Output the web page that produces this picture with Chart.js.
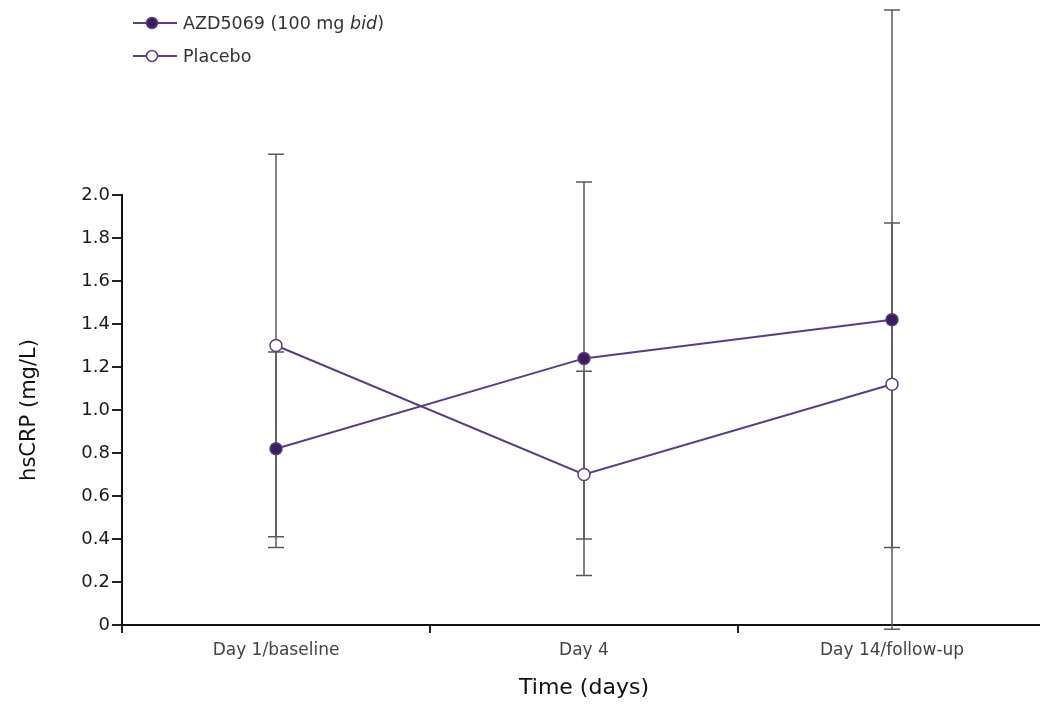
<!DOCTYPE html>
<html>
<head>
<meta charset="utf-8">
<script src="https://cdn.jsdelivr.net/npm/chart.js@4.4.1/dist/chart.umd.min.js"></script>
<style>
    html, body { margin: 0; padding: 0; background: #fff; overflow: hidden; }
    #wrap { position: relative; width: 1040px; height: 706px; overflow: hidden; }
    #box { position: absolute; left: 0; top: 0; width: 1060px; height: 706px; }
    #legend { position: absolute; left: 133px; top: 6px; font-family: 'DejaVu Sans', sans-serif; font-size: 17.5px; color: #333; }
    .row { display: flex; align-items: center; height: 33px; }
    .row svg { margin-right: 6px; }
</style>
</head>
<body>
<div id="wrap">
    <div id="box"><canvas id="chart"></canvas></div>
    <div id="legend">
        <div class="row">
            <svg width="44" height="16"><line x1="0" y1="8" x2="44" y2="8" stroke="#5b3d80" stroke-width="2"/><circle cx="19" cy="8" r="5.5" fill="#3b1d5c" stroke="#5b3d80" stroke-width="1.5"/></svg>
            <span>AZD5069 (100 mg <i>bid</i>)</span>
        </div>
        <div class="row">
            <svg width="44" height="16"><line x1="0" y1="8" x2="44" y2="8" stroke="#5b3d80" stroke-width="2"/><circle cx="19" cy="8" r="5.5" fill="#fff" stroke="#5b3d80" stroke-width="1.5"/></svg>
            <span>Placebo</span>
        </div>
    </div>
</div>
<script>
// Data
const days = ['Day 1/baseline', 'Day 4', 'Day 14/follow-up'];
const azdMean = [0.82, 1.24, 1.42];
const azdLow = [0.36, 0.40, -0.02];
const azdHigh = [1.27, 2.06, 2.86];
const pboMean = [1.30, 0.70, 1.12];
const pboLow = [0.41, 0.23, 0.36];
const pboHigh = [2.19, 1.18, 1.87];

const purple = '#5b3d80';
const font = 'DejaVu Sans';

// error bars drawn under the lines
const errorBars = {
    id: 'errorBars',
    beforeDatasetsDraw(chart) {
        const ctx = chart.ctx;
        const x = chart.scales.x;
        const y = chart.scales.y;
        const ranges = [[azdLow, azdHigh], [pboLow, pboHigh]];
        ctx.save();
        ctx.strokeStyle = '#5a5a5a';
        ctx.lineWidth = 1.5;
        ranges.forEach(([lo, hi]) => {
            days.forEach((d, i) => {
                const px = x.getPixelForValue(i);
                const y1 = y.getPixelForValue(lo[i]);
                const y2 = y.getPixelForValue(hi[i]);
                ctx.beginPath();
                ctx.moveTo(px, y1);
                ctx.lineTo(px, y2);
                ctx.moveTo(px - 8, y1);
                ctx.lineTo(px + 8, y1);
                ctx.moveTo(px - 8, y2);
                ctx.lineTo(px + 8, y2);
                ctx.stroke();
            });
        });
        ctx.restore();
    }
};

new Chart(document.getElementById('chart'), {
    type: 'line',
    data: {
        labels: days,
        datasets: [
            {
                label: 'AZD5069 (100 mg bid)',
                data: azdMean,
                borderColor: purple,
                borderWidth: 2,
                pointRadius: 6,
                pointBackgroundColor: '#3b1d5c',
                pointBorderColor: purple,
                pointBorderWidth: 1.5,
                clip: false
            },
            {
                label: 'Placebo',
                data: pboMean,
                borderColor: purple,
                borderWidth: 2,
                pointRadius: 6,
                pointBackgroundColor: '#fff',
                pointBorderColor: purple,
                pointBorderWidth: 1.5,
                clip: false
            }
        ]
    },
    options: {
        responsive: true,
        maintainAspectRatio: false,
        animation: false,
        layout: { padding: { top: 195, right: 14, left: 0, bottom: 0 } },
        plugins: {
            legend: { display: false },
            tooltip: { enabled: false }
        },
        scales: {
            x: {
                offset: true,
                grid: { offset: true, drawOnChartArea: false, tickLength: 8, color: '#222', lineWidth: 2 },
                border: { color: '#111', width: 2 },
                ticks: { font: { family: font, size: 17 }, color: '#444', padding: 7 },
                title: { display: true, text: 'Time (days)', color: '#111', font: { family: font, size: 22 }, padding: { top: 4, bottom: 5 } },
                afterFit(s) { s.height = 81; }
            },
            y: {
                min: 0,
                max: 2,
                grid: { drawOnChartArea: false, tickLength: 10, color: '#222', lineWidth: 2 },
                border: { color: '#111', width: 2 },
                ticks: {
                    stepSize: 0.2,
                    font: { family: font, size: 18 },
                    color: '#1a1a1a',
                    padding: 2,
                    callback: v => v === 0 ? '0' : v.toFixed(1)
                },
                title: { display: true, text: 'hsCRP (mg/L)', color: '#111', font: { family: font, size: 21 }, padding: { top: 17 } },
                afterFit(s) { s.width = 122; }
            }
        }
    },
    plugins: [errorBars]
});
</script>
</body>
</html>
